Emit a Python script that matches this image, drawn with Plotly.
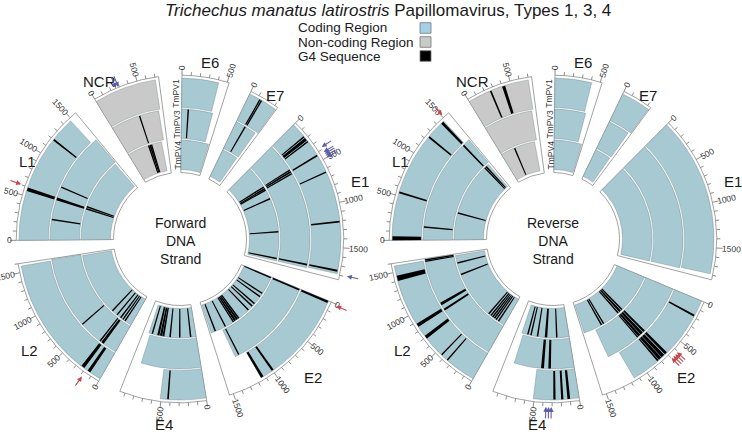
import math
import plotly.graph_objects as go

# ---------------- data ----------------
TITLE_SPECIES = "Trichechus manatus latirostris"
TITLE_REST = " Papillomavirus, Types 1, 3, 4"

GENES = ["E6", "E7", "E1", "E2", "E4", "L2", "L1", "NCR"]
IDEOGRAM_BP = [520, 340, 1850, 1545, 960, 1600, 1580, 740]
TYPES = ["TmPV1", "TmPV3", "TmPV4"]
LEN_TMPV1 = [410, 330, 1790, 1150, 510, 1570, 1480, 700]
LEN_TMPV3 = [430, 300, 1800, 1310, 830, 1590, 1560, 680]
LEN_TMPV4 = [500, 290, 1800, 1520, 860, 1570, 1540, 640]
NONCODING = ["NCR"]
TICK_STEP = 100
LABEL_STEP = 500

# G4 sequences: (gene, type, start bp, length bp)
FWD_G4 = [
    ("E6", "TmPV3", 85, 15),
    ("E7", "TmPV1", 122, 15), ("E7", "TmPV1", 142, 15), ("E7", "TmPV3", 132, 15),
    ("E1", "TmPV1", 168, 15), ("E1", "TmPV1", 192, 35), ("E1", "TmPV1", 236, 15),
    ("E1", "TmPV1", 420, 18), ("E1", "TmPV1", 630, 15), ("E1", "TmPV1", 1200, 20),
    ("E1", "TmPV1", 1745, 22),
    ("E1", "TmPV3", 395, 20), ("E1", "TmPV3", 420, 25), ("E1", "TmPV3", 452, 15),
    ("E1", "TmPV3", 1745, 22),
    ("E1", "TmPV4", 405, 20), ("E1", "TmPV4", 436, 30), ("E1", "TmPV4", 470, 15),
    ("E1", "TmPV4", 645, 15), ("E1", "TmPV4", 1260, 20), ("E1", "TmPV4", 1745, 22),
    ("E2", "TmPV1", 0, 25), ("E2", "TmPV1", 985, 25), ("E2", "TmPV1", 1120, 30),
    ("E2", "TmPV3", 0, 25), ("E2", "TmPV3", 1245, 20),
    ("E2", "TmPV4", 0, 25), ("E2", "TmPV4", 330, 15), ("E2", "TmPV4", 400, 15),
    ("E2", "TmPV4", 560, 15), ("E2", "TmPV4", 620, 15), ("E2", "TmPV4", 720, 15),
    ("E2", "TmPV4", 940, 30), ("E2", "TmPV4", 975, 35), ("E2", "TmPV4", 1015, 40),
    ("E2", "TmPV4", 1060, 25), ("E2", "TmPV4", 1230, 20), ("E2", "TmPV4", 1430, 20),
    ("E4", "TmPV1", 415, 18),
    ("E4", "TmPV4", 90, 15), ("E4", "TmPV4", 288, 15), ("E4", "TmPV4", 463, 15),
    ("E4", "TmPV4", 575, 35), ("E4", "TmPV4", 615, 40), ("E4", "TmPV4", 665, 40),
    ("E4", "TmPV4", 790, 15),
    ("L2", "TmPV1", 130, 35), ("L2", "TmPV1", 210, 40),
    ("L2", "TmPV3", 195, 40), ("L2", "TmPV3", 250, 15), ("L2", "TmPV3", 585, 15),
    ("L2", "TmPV4", 120, 15), ("L2", "TmPV4", 165, 15), ("L2", "TmPV4", 215, 20),
    ("L2", "TmPV4", 300, 15), ("L2", "TmPV4", 410, 15),
    ("L1", "TmPV1", 555, 40), ("L1", "TmPV1", 1190, 20),
    ("L1", "TmPV3", 275, 15), ("L1", "TmPV3", 555, 40), ("L1", "TmPV3", 740, 15),
    ("L1", "TmPV4", 555, 30), ("L1", "TmPV4", 600, 15),
    ("NCR", "TmPV3", 400, 18),
    ("NCR", "TmPV4", 385, 25), ("NCR", "TmPV4", 412, 30), ("NCR", "TmPV4", 442, 20),
]

REV_G4 = [
    ("E2", "TmPV1", 170, 22),
    ("E2", "TmPV1", 690, 30), ("E2", "TmPV1", 730, 40), ("E2", "TmPV1", 775, 35),
    ("E2", "TmPV1", 815, 20),
    ("E2", "TmPV3", 690, 30), ("E2", "TmPV3", 730, 40), ("E2", "TmPV3", 775, 35),
    ("E2", "TmPV3", 815, 20),
    ("E2", "TmPV4", 700, 30), ("E2", "TmPV4", 740, 40), ("E2", "TmPV4", 790, 30),
    ("E2", "TmPV4", 1125, 15), ("E2", "TmPV4", 1170, 15),
    ("E4", "TmPV1", 100, 30), ("E4", "TmPV1", 175, 25), ("E4", "TmPV1", 262, 25),
    ("E4", "TmPV3", 320, 35), ("E4", "TmPV3", 415, 40),
    ("E4", "TmPV4", 210, 25), ("E4", "TmPV4", 395, 45), ("E4", "TmPV4", 560, 25),
    ("E4", "TmPV4", 685, 15), ("E4", "TmPV4", 740, 20),
    ("L2", "TmPV1", 345, 15), ("L2", "TmPV1", 430, 15), ("L2", "TmPV1", 680, 40),
    ("L2", "TmPV1", 840, 40), ("L2", "TmPV1", 1400, 60),
    ("L2", "TmPV3", 830, 30), ("L2", "TmPV3", 915, 40), ("L2", "TmPV3", 1555, 12),
    ("L2", "TmPV3", 1575, 12),
    ("L2", "TmPV4", 110, 15), ("L2", "TmPV4", 160, 15), ("L2", "TmPV4", 200, 15),
    ("L2", "TmPV4", 240, 15), ("L2", "TmPV4", 280, 15), ("L2", "TmPV4", 330, 15),
    ("L2", "TmPV4", 1206, 20), ("L2", "TmPV4", 1422, 20),
    ("L1", "TmPV1", 0, 45), ("L1", "TmPV1", 528, 20), ("L1", "TmPV1", 1230, 20),
    ("L1", "TmPV1", 1440, 30),
    ("L1", "TmPV3", 170, 20), ("L1", "TmPV3", 1440, 25),
    ("L1", "TmPV4", 480, 20), ("L1", "TmPV4", 1440, 20), ("L1", "TmPV4", 1475, 15),
    ("NCR", "TmPV1", 255, 20), ("NCR", "TmPV1", 400, 35),
    ("NCR", "TmPV4", 250, 25),
]

# highlighted positions (arrows): (angle deg, head radius, colour key)
FWD_ARROWS = [(337.0, 164, "b"), (337.9, 164, "b"), (57.0, 169, "b"),
              (58.8, 168, "b"), (59.5, 168, "b"), (60.2, 168, "b"), (60.9, 168, "b"),
              (102.6, 171, "b"), (113.2, 170, "r"), (289.0, 168, "r"), (215.5, 169, "r")]
REV_ARROWS = [(318.2, 166, "r"), (132.4, 168, "r"), (133.3, 168, "r"),
              (134.2, 168, "r"), (135.1, 168, "r"),
              (180.6, 168, "b"), (181.5, 168, "b"), (182.4, 168, "b")]

LEGEND_LABELS = ["Coding Region", "Non-coding Region", "G4 Sequence"]

# ---------------- layout / style ----------------
W, H = 742, 434
CY = 239
CENTERS = [180, 553]
RMAX = 180
SCALE = 0.0322          # degrees per bp
START = 0.7
GAP = (360 - SCALE * sum(IDEOGRAM_BP)) / len(GENES)
TRACK_BASE = {"TmPV1": 131.5, "TmPV3": 100.5, "TmPV4": 69.5}
TRACK_H = 29.5
OUT_BASE, OUT_TOP = 66.5, 163.8
TRACK_LEN = {"TmPV1": LEN_TMPV1, "TmPV3": LEN_TMPV3, "TmPV4": LEN_TMPV4}
C_CODING = "#a7c9d1"
C_NONCODING = "#c9c9c9"
C_LEG_CODING = "#a2d0e6"
ARROW_COL = {"r": "#c8464b", "b": "#5b5fa6"}
FONT = "Arial, Liberation Sans, sans-serif"
TXT = "#1a1a1a"

GENE_LABEL_POS = {"E6": (179, 9.7), "E7": (172, 33.4), "E1": (189, 72.3),
                  "E2": (192, 136), "E4": (186.5, 185), "L2": (187, 233.5),
                  "L1": (171, 297), "NCR": (177, 333)}

gene_start = {}
s = START
for g, L in zip(GENES, IDEOGRAM_BP):
    gene_start[g] = s
    s += L * SCALE + GAP
gidx = {g: i for i, g in enumerate(GENES)}


def paper(cx, r, th):
    t = math.radians(th)
    return (cx + r * math.sin(t)) / W, 1 - (CY - r * math.cos(t)) / H


def text_ann(x, y, text, size, color=TXT, angle=0, xanchor="center"):
    return dict(x=x, y=y, xref="paper", yref="paper", text=text, showarrow=False,
                textangle=angle, xanchor=xanchor, yanchor="middle",
                font=dict(size=size, color=color, family=FONT))


fig = go.Figure()
annotations = []
shapes = []

for ci, (cx, g4list, center_txt, arrows) in enumerate([
        (CENTERS[0], FWD_G4, "Forward<br>DNA<br>Strand", FWD_ARROWS),
        (CENTERS[1], REV_G4, "Reverse<br>DNA<br>Strand", REV_ARROWS)]):
    sp = "polar" if ci == 0 else "polar2"

    # ideogram outlines
    fig.add_trace(go.Barpolar(
        theta=[gene_start[g] + L * SCALE / 2 for g, L in zip(GENES, IDEOGRAM_BP)],
        width=[L * SCALE for L in IDEOGRAM_BP],
        base=[OUT_BASE] * len(GENES), r=[OUT_TOP - OUT_BASE] * len(GENES),
        marker=dict(color="white", line=dict(color="#8a8a8a", width=0.8)),
        hoverinfo="skip", subplot=sp))

    # gene bars per type
    for coding in (True, False):
        th, wd, bs, rr = [], [], [], []
        for g in GENES:
            if (g in NONCODING) == coding:
                continue
            for t in TYPES:
                L = TRACK_LEN[t][gidx[g]]
                th.append(gene_start[g] + L * SCALE / 2)
                wd.append(L * SCALE)
                bs.append(TRACK_BASE[t])
                rr.append(TRACK_H)
        fig.add_trace(go.Barpolar(
            theta=th, width=wd, base=bs, r=rr,
            marker=dict(color=C_CODING if coding else C_NONCODING,
                        line=dict(color="rgba(95,115,120,0.55)", width=0.6)),
            hoverinfo="skip", subplot=sp))

    # G4 sequences
    th, wd, bs, rr = [], [], [], []
    for g, t, pos, ln in g4list:
        rmid = TRACK_BASE[t] + TRACK_H / 2
        w = max(ln * SCALE, math.degrees(1.3 / rmid))
        th.append(gene_start[g] + (pos + ln / 2) * SCALE)
        wd.append(w)
        bs.append(TRACK_BASE[t] + 0.4)
        rr.append(TRACK_H - 0.8)
    fig.add_trace(go.Barpolar(
        theta=th, width=wd, base=bs, r=rr,
        marker=dict(color="black", line=dict(width=0)),
        hoverinfo="skip", subplot=sp))

    # scale ticks
    tr, tt = [], []
    for g, L in zip(GENES, IDEOGRAM_BP):
        for bp in range(0, L + 1, TICK_STEP):
            a = gene_start[g] + bp * SCALE
            tr += [OUT_TOP, OUT_TOP + (6.0 if bp % LABEL_STEP == 0 else 3.5), None]
            tt += [a, a, None]
            if bp % LABEL_STEP == 0:
                txt = str(bp)
                rl = OUT_TOP + 4.5 + len(txt) * 2.5
                x, y = paper(cx, rl, a)
                am = a % 360
                ang = am - 90 if am < 180 else am - 270
                annotations.append(text_ann(x, y, txt, 8.5, "#333", ang))
    fig.add_trace(go.Scatterpolar(r=tr, theta=tt, mode="lines",
                                  line=dict(color="#707070", width=0.8),
                                  hoverinfo="skip", subplot=sp))

    # gene labels
    for g in GENES:
        rl, a = GENE_LABEL_POS[g]
        x, y = paper(cx, rl, a)
        annotations.append(text_ann(x, y, g, 15))

    # track labels
    for t in TYPES:
        x, y = paper(cx, TRACK_BASE[t] + TRACK_H / 2, -1.6)
        annotations.append(text_ann(x, y, t, 8.5, "#333", -90))

    # centre text
    annotations.append(text_ann(cx / W, 1 - 241 / H, center_txt, 14))

    # arrows
    for a, rh, col in arrows:
        x, y = paper(cx, rh, a)
        d = 13
        t = math.radians(a)
        annotations.append(dict(x=x, y=y, xref="paper", yref="paper", text="",
                                showarrow=True, arrowhead=2, arrowsize=0.9,
                                arrowwidth=1.1, arrowcolor=ARROW_COL[col],
                                ax=d * math.sin(t), ay=-d * math.cos(t), standoff=0))

# title
annotations.append(text_ann(388 / W, 1 - 11 / H,
                            "<i>" + TITLE_SPECIES + "</i>" + TITLE_REST, 17))

# legend
leg_cols = [C_LEG_CODING, C_NONCODING, "black"]
for i, (lab, col) in enumerate(zip(LEGEND_LABELS, leg_cols)):
    yc = 28 + i * 14
    annotations.append(text_ann(296 / W, 1 - yc / H, lab, 13.5, xanchor="left"))
    shapes.append(dict(type="rect", xref="paper", yref="paper",
                       x0=420 / W, x1=431 / W, y0=1 - (yc + 5.3) / H, y1=1 - (yc - 5.3) / H,
                       fillcolor=col, line=dict(color="#777", width=0.8)))


def polar_layout(cx):
    return dict(domain=dict(x=[(cx - RMAX) / W, (cx + RMAX) / W],
                            y=[1 - (CY + RMAX) / H, 1 - (CY - RMAX) / H]),
                bgcolor="rgba(0,0,0,0)", barmode="overlay", hole=0,
                radialaxis=dict(visible=False, range=[0, RMAX]),
                angularaxis=dict(visible=False, rotation=90, direction="clockwise",
                                 showgrid=False))


fig.update_layout(width=W, height=H, margin=dict(l=0, r=0, t=0, b=0),
                  paper_bgcolor="white", plot_bgcolor="white", showlegend=False,
                  polar=polar_layout(CENTERS[0]), polar2=polar_layout(CENTERS[1]),
                  annotations=annotations, shapes=shapes)

fig.write_html("out.html", config={"displayModeBar": False},
               post_script="document.documentElement.style.margin='0';"
                           "document.body.style.margin='0';document.body.style.padding='0';"
                           "window.scrollTo(0,0);")
